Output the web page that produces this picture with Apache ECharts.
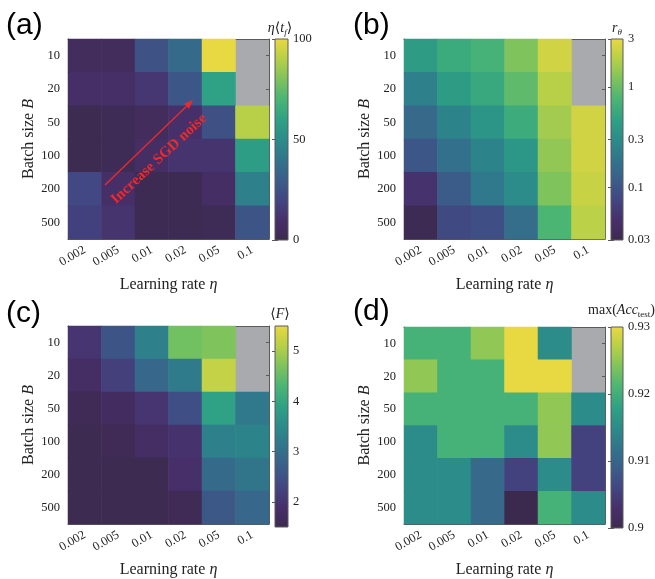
<!DOCTYPE html>
<html><head><meta charset="utf-8">
<script src="https://cdn.jsdelivr.net/npm/echarts@6/dist/echarts.min.js"></script>
<style>html,body{margin:0;padding:0;background:#fff}#c{width:655px;height:579px}</style>
</head><body><div id="c"></div>
<script>
// ---------------- data ----------------
const learningRates = ['0.002', '0.005', '0.01', '0.02', '0.05', '0.1'];
const batchSizes = ['10', '20', '50', '100', '200', '500'];
// rows: batch size (10 ... 500), columns: learning rate (0.002 ... 0.1); null = no data (gray)
const tfValues = [
  [5, 5, 25, 35, 100, null],
  [9, 9, 13, 27, 60, null],
  [1, 3, 5, 10, 24, 90],
  [1, 3, 8, 12, 12, 58],
  [21, 9, 2, 2, 8, 45],
  [18, 12, 2, 2, 3, 26]
];
const rThetaValues = [
  [0.43, 0.58, 0.7, 1.19, 2.4, null],
  [0.24, 0.43, 0.56, 0.9, 1.9, null],
  [0.15, 0.25, 0.36, 0.6, 1.6, 2.4],
  [0.105, 0.17, 0.25, 0.38, 1.4, 2.4],
  [0.05, 0.115, 0.2, 0.3, 1.2, 2.2],
  [0.033, 0.08, 0.09, 0.165, 0.75, 1.97]
];
const fValues = [
  [2.0, 2.55, 3.3, 4.6, 4.7, null],
  [1.8, 2.2, 2.85, 3.2, 5.2, null],
  [1.6, 1.75, 2.0, 2.45, 3.9, 3.15],
  [1.55, 1.6, 1.8, 1.95, 3.3, 3.35],
  [1.55, 1.55, 1.55, 1.9, 2.9, 3.1],
  [1.55, 1.55, 1.55, 1.6, 2.6, 2.85]
];
const accValues = [
  [0.9205, 0.9205, 0.925, 0.93, 0.915, null],
  [0.925, 0.9205, 0.9205, 0.93, 0.93, null],
  [0.9205, 0.9205, 0.9205, 0.9205, 0.925, 0.915],
  [0.915, 0.9205, 0.9205, 0.915, 0.925, 0.9055],
  [0.915, 0.915, 0.9105, 0.9055, 0.915, 0.9055],
  [0.915, 0.915, 0.9105, 0.9, 0.9205, 0.915]
];
const tfTicks = [0, 50, 100];
const rThetaTicks = [0.03, 0.1, 0.3, 1, 3];
const fTicks = [2, 3, 4, 5];
const accTicks = [0.9, 0.91, 0.92, 0.93];

// ---------------- style ----------------
const palette = ['#3c2a4e', '#472f6a', '#424682', '#3a5e89', '#31758b', '#2b8c8a',
                 '#2fa184', '#4bb574', '#7ec35c', '#b7d047', '#e8d842'];
const SERIF = '"Liberation Serif", "DejaVu Serif", serif';
const SANS = '"Liberation Sans", Arial, sans-serif';
const AX = '#5a5a5a';
const TXT = '#222';

const heatRects = [
  {left: 68, top: 39, width: 201, height: 200},
  {left: 404, top: 39, width: 201, height: 200},
  {left: 68, top: 326, width: 201, height: 201},
  {left: 404, top: 327, width: 201, height: 201}
];
const barRects = [
  {left: 275, top: 39, width: 13, height: 201},
  {left: 611, top: 39, width: 12, height: 201},
  {left: 275, top: 326, width: 13, height: 201},
  {left: 611, top: 327, width: 12, height: 201}
];
const panels = [
  {values: tfValues, ticks: tfTicks, min: 0, max: 100, log: false},
  {values: rThetaValues, ticks: rThetaTicks, min: 0.03, max: 3, log: true},
  {values: fValues, ticks: fTicks, min: 1.5, max: 5.5, log: false},
  {values: accValues, ticks: accTicks, min: 0.9, max: 0.93, log: false}
];

const grids = [], xAxes = [], yAxes = [], series = [], visualMaps = [];
const richName = {
  i: {fontFamily: SERIF, fontStyle: 'italic', fontSize: 16, color: TXT}
};

panels.forEach((p, i) => {
  const tf = p.log ? (v => Math.log10(v)) : (v => v);
  // heatmap grid
  const gi = grids.length;
  grids.push(Object.assign({show: true, backgroundColor: '#a9aaad', borderWidth: 0}, heatRects[i]));
  const xb = xAxes.length;
  const catTick = {show: true, inside: true, alignWithLabel: true, length: 3, lineStyle: {color: AX}};
  xAxes.push({
    gridIndex: gi, type: 'category', data: learningRates, position: 'bottom',
    axisLine: {lineStyle: {color: AX, width: 1}}, axisTick: catTick,
    axisLabel: {interval: 0, rotate: 30, margin: 10, fontFamily: SERIF, fontSize: 12.5, color: TXT},
    splitLine: {show: false},
    name: 'Learning rate {i|η}', nameLocation: 'middle', nameGap: 38,
    nameTextStyle: {fontFamily: SERIF, fontSize: 16, color: TXT, rich: richName}
  });
  xAxes.push({
    gridIndex: gi, type: 'category', data: learningRates, position: 'top',
    axisLine: {lineStyle: {color: AX, width: 1}}, axisTick: catTick,
    axisLabel: {show: false}, splitLine: {show: false}
  });
  const yl = yAxes.length;
  yAxes.push({
    gridIndex: gi, type: 'category', data: batchSizes, inverse: true, position: 'left',
    axisLine: {lineStyle: {color: AX, width: 1}}, axisTick: catTick,
    axisLabel: {interval: 0, margin: 8, fontFamily: SERIF, fontSize: 12.5, color: TXT},
    splitLine: {show: false},
    name: 'Batch size {i|B}', nameLocation: 'middle', nameGap: 31,
    nameTextStyle: {fontFamily: SERIF, fontSize: 16, color: TXT, rich: richName}
  });
  yAxes.push({
    gridIndex: gi, type: 'category', data: batchSizes, inverse: true, position: 'right',
    axisLine: {lineStyle: {color: AX, width: 1}}, axisTick: catTick,
    axisLabel: {show: false}, splitLine: {show: false}
  });
  const data = [];
  p.values.forEach((row, r) => row.forEach((v, c) => {
    if (v !== null) data.push([c, r, tf(v)]);
  }));
  const si = series.length;
  series.push({
    type: 'heatmap', xAxisIndex: xb, yAxisIndex: yl, data: data, silent: true,
    itemStyle: {borderWidth: 0}, emphasis: {disabled: true}, z: 1
  });
  visualMaps.push({
    type: 'continuous', show: false, seriesIndex: si, dimension: 2,
    min: tf(p.min), max: tf(p.max), inRange: {color: palette}
  });

  // colorbar grid
  const ci = grids.length;
  grids.push(Object.assign({show: false}, barRects[i]));
  const cx = xAxes.length;
  xAxes.push({gridIndex: ci, type: 'value', show: false, min: 0, max: 1});
  const tickVals = p.ticks.map(tf);
  const fmt = v => {
    let best = p.ticks[0], bd = Infinity;
    p.ticks.forEach(t => { const d = Math.abs(tf(t) - v); if (d < bd) { bd = d; best = t; } });
    return String(best);
  };
  const cy = yAxes.length;
  yAxes.push({
    gridIndex: ci, type: 'value', position: 'right', min: tf(p.min), max: tf(p.max),
    axisLine: {show: false}, splitLine: {show: false},
    axisTick: {show: true, inside: true, length: 3, customValues: tickVals, lineStyle: {color: AX}},
    axisLabel: {customValues: tickVals, formatter: fmt, margin: 5, fontFamily: SERIF, fontSize: 12.5, color: TXT}
  });
  yAxes.push({
    gridIndex: ci, type: 'value', position: 'left', min: tf(p.min), max: tf(p.max),
    axisLine: {show: false}, splitLine: {show: false},
    axisTick: {show: true, inside: true, length: 3, customValues: tickVals, lineStyle: {color: AX}},
    axisLabel: {show: false}
  });
  series.push({
    type: 'custom', xAxisIndex: cx, yAxisIndex: cy, silent: true, z: 1,
    data: [[0.5, tf(p.min)]],
    renderItem: (params, api) => {
      const cs = params.coordSys;
      const stops = palette.map((c, k) => ({offset: k / (palette.length - 1), color: c}));
      return {
        type: 'rect',
        shape: {x: cs.x, y: cs.y, width: cs.width, height: cs.height},
        style: {fill: new echarts.graphic.LinearGradient(0, 1, 0, 0, stops), stroke: AX, lineWidth: 1}
      };
    }
  });
});

const letterStyle = {fontFamily: SANS, fontSize: 30, fontWeight: 'normal', color: '#000'};
const titles = [
  {text: '(a)', left: 6, top: 11},
  {text: '(b)', left: 353, top: 11},
  {text: '(c)', left: 6, top: 299},
  {text: '(d)', left: 353, top: 297}
].map(t => Object.assign({padding: 0, textStyle: letterStyle}, t));

const cbRich = {
  i: {fontFamily: SERIF, fontStyle: 'italic', fontSize: 14, fill: TXT},
  r: {fontFamily: SERIF, fontSize: 14, fill: TXT},
  s: {fontFamily: SERIF, fontSize: 9, fill: TXT, verticalAlign: 'bottom', lineHeight: 18},
  si: {fontFamily: SERIF, fontStyle: 'italic', fontSize: 9, fill: TXT, verticalAlign: 'bottom', lineHeight: 18}
};
function cbTitle(x, y, text, align) {
  return {type: 'text', x: x, y: y, z: 10,
    style: {text: text, rich: cbRich, align: align || 'center', verticalAlign: 'middle', font: '14px ' + SERIF, fill: TXT}};
}

// arrow annotation in panel (a)
const ax1 = 105, ay1 = 185, ax2 = 193, ay2 = 100;
const L = Math.hypot(ax2 - ax1, ay2 - ay1);
const ux = (ax2 - ax1) / L, uy = (ay2 - ay1) / L;
const hl = 9, hw = 3.5;
const bx = ax2 - hl * ux, by = ay2 - hl * uy;
const RED = '#ee2a2a';

const graphic = [
  cbTitle(280, 28, '{i|η}{r|⟨}{i|t}{si|f}{r|⟩}'),
  cbTitle(617, 28, '{i|r}{si|θ}'),
  cbTitle(280, 314, '{r|⟨}{i|F}{r|⟩}'),
  cbTitle(655, 310, '{r|max(}{i|Acc}{s|test}{r|)}', 'right'),
  {type: 'line', z: 10, shape: {x1: ax1, y1: ay1, x2: bx, y2: by}, style: {stroke: RED, lineWidth: 1.3}},
  {type: 'polygon', z: 10, shape: {points: [[ax2, ay2], [bx - hw * uy, by + hw * ux], [bx + hw * uy, by - hw * ux]]},
    style: {fill: RED}},
  {type: 'text', z: 10, x: 159, y: 159, rotation: 43 * Math.PI / 180,
    style: {text: 'Increase SGD noise', fill: RED, font: 'bold 15px ' + SERIF, align: 'center', verticalAlign: 'middle'}}
];

const chart = echarts.init(document.getElementById('c'), null, {renderer: 'canvas'});
chart.setOption({
  animation: false,
  backgroundColor: '#fff',
  title: titles,
  grid: grids,
  xAxis: xAxes,
  yAxis: yAxes,
  visualMap: visualMaps,
  series: series,
  graphic: graphic
});
</script>
</body></html>
